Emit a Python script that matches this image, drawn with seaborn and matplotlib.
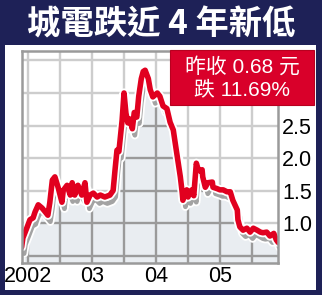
import numpy as np
import pandas as pd
import seaborn as sns
import matplotlib
matplotlib.use("Agg")
import matplotlib.pyplot as plt
import matplotlib.transforms as mtransforms
import matplotlib.patheffects as pe
from matplotlib.patches import Rectangle

# ---- data ----
years = [2001.90, 2001.92, 2001.98, 2002.03, 2002.08, 2002.11, 2002.16, 2002.22, 2002.27, 2002.31,
         2002.34, 2002.38, 2002.42, 2002.47, 2002.53, 2002.55, 2002.61, 2002.66, 2002.69, 2002.73,
         2002.78, 2002.84, 2002.89, 2002.92, 2002.97, 2003.02, 2003.08, 2003.13, 2003.20, 2003.28,
         2003.33, 2003.36, 2003.39, 2003.42, 2003.47, 2003.50, 2003.53, 2003.56, 2003.59, 2003.63,
         2003.66, 2003.70, 2003.73, 2003.77, 2003.80, 2003.83, 2003.88, 2003.91, 2003.95, 2004.02,
         2004.06, 2004.11, 2004.17, 2004.22, 2004.27, 2004.30, 2004.34, 2004.38, 2004.41, 2004.42,
         2004.45, 2004.48, 2004.50, 2004.53, 2004.56, 2004.59, 2004.63, 2004.66, 2004.69, 2004.72,
         2004.73, 2004.77, 2004.81, 2004.88, 2004.89, 2004.95, 2005.00, 2005.05, 2005.11, 2005.16,
         2005.20, 2005.27, 2005.28, 2005.31, 2005.36, 2005.42, 2005.47, 2005.52, 2005.58, 2005.63,
         2005.67, 2005.73, 2005.78, 2005.84, 2005.88, 2005.91]
price = [0.63, 0.77, 0.92, 1.05, 1.08, 1.17, 1.28, 1.23, 1.17, 1.12,
         1.31, 1.66, 1.71, 1.55, 1.32, 1.50, 1.58, 1.43, 1.62, 1.43,
         1.58, 1.43, 1.62, 1.32, 1.43, 1.46, 1.40, 1.43, 1.40, 1.43,
         1.50, 1.82, 2.12, 2.10, 2.58, 3.00, 2.69, 2.54, 2.60, 2.45,
         2.70, 2.63, 2.95, 3.22, 3.33, 3.35, 3.22, 3.05, 2.94, 3.00,
         2.95, 2.80, 2.76, 2.55, 2.43, 2.23, 1.97, 1.71, 1.46, 1.35,
         1.45, 1.51, 1.40, 1.48, 1.51, 1.42, 1.92, 1.82, 1.80, 1.82,
         1.71, 1.55, 1.62, 1.63, 1.55, 1.53, 1.51, 1.51, 1.48, 1.48,
         1.35, 1.20, 1.05, 0.94, 0.89, 0.92, 0.86, 0.92, 0.89, 0.86,
         0.85, 0.86, 0.80, 0.84, 0.74, 0.70]

year_ticks = [2002, 2003, 2004, 2005]
year_labels = ["2002", "03", "04", "05"]
price_ticks = [1.0, 1.5, 2.0, 2.5]
price_labels = ["1.0", "1.5", "2.0", "2.5"]
grid_x = [2002.0, 2002.5, 2003.0, 2003.5, 2004.0, 2004.5, 2005.0, 2005.5]
grid_y = [0.5, 1.0, 1.5, 2.0, 2.5, 3.0, 3.5]

title = "城電跌近 4 年新低"
box_line1 = "昨收 0.68 元"
box_line2 = "跌 11.69%"

df = pd.DataFrame({"year": years, "price": price})

# ---- style ----
sns.set_theme(style="white")
plt.rcParams["font.family"] = ["Liberation Sans", "Noto Sans CJK TC", "DejaVu Sans"]

NAVY = "#1e2157"
RED = "#e1001f"
FILL = "#e9edf1"
W, H = 322, 295

fig = plt.figure(figsize=(W / 100, H / 100), dpi=100)
fig.patch.set_facecolor(NAVY)
fig.add_artist(Rectangle((5 / W, 1 - 290 / H), (316 - 5) / W, (290 - 45) / H,
                         transform=fig.transFigure, facecolor="white", edgecolor="none", zorder=0))

ax = fig.add_axes([22 / W, 1 - 263 / H, 256 / W, 212 / H])
ax.set_facecolor("white")
ax.set_xlim(2001.906, 2005.906)
ax.set_ylim(0.385, 3.646)

# light grid
for gx in grid_x:
    ax.axvline(gx, color="#cdcdcd", lw=1.7, zorder=0.5)
for gy in grid_y:
    ax.axhline(gy, color="#cdcdcd", lw=1.7, zorder=0.5)

shadow_tr = mtransforms.offset_copy(ax.transData, fig=fig, x=2.5, y=-6.5, units="dots")

fill = ax.fill_between(df["year"], df["price"], 0.0, color=FILL, lw=0,
                       transform=shadow_tr, zorder=1)
clip_path = fill.get_paths()[0]

# darker grid inside the filled area
for gx in grid_x:
    ln = ax.axvline(gx, color="#9a9a9a", lw=1.7, zorder=1.5)
    ln.set_clip_path(clip_path, shadow_tr)
for gy in grid_y:
    ln = ax.axhline(gy, color="#9a9a9a", lw=1.7, zorder=1.5)
    ln.set_clip_path(clip_path, shadow_tr)

# shadow line
sns.lineplot(data=df, x="year", y="price", ax=ax, color="#a3a3a3", lw=3.4,
             sort=False, estimator=None, zorder=2)
shadow_line = ax.lines[-1]
shadow_line.set_transform(shadow_tr)
shadow_line.set_path_effects([pe.Stroke(linewidth=6.0, foreground="white"), pe.Normal()])

# red line
sns.lineplot(data=df, x="year", y="price", ax=ax, color=RED, lw=4.0,
             sort=False, estimator=None, zorder=3)
red_line = ax.lines[-1]
red_line.set_path_effects([pe.Stroke(linewidth=6.6, foreground="white"), pe.Normal()])

# axes styling
for s in ax.spines.values():
    s.set_color("#9a9a9a")
    s.set_linewidth(1.8)
    s.set_zorder(4)
ax.set_xlabel("")
ax.set_ylabel("")
ax.set_xticks(year_ticks)
ax.set_xticklabels(year_labels)
ax.set_yticks(price_ticks)
ax.set_yticklabels(price_labels)
ax.yaxis.tick_right()
ax.tick_params(axis="both", length=0, labelsize=15.5, colors="black")
ax.tick_params(axis="y", pad=3)
ax.tick_params(axis="x", pad=2)

# title
fig.text(161 / W, 1 - 25 / H, title, color="white", fontsize=24, fontweight="bold",
         ha="center", va="center", family=["Noto Sans CJK TC", "DejaVu Sans"])

# red box
fig.add_artist(Rectangle((170 / W, 1 - 105 / H), 144 / W, 55 / H, transform=fig.transFigure,
                         facecolor="#d9002a", edgecolor="#b8001f", lw=0.8, zorder=10))
fig.text(242 / W, 1 - 67 / H, box_line1, color="white", fontsize=15, ha="center", va="center",
         zorder=11)
fig.text(242 / W, 1 - 90 / H, box_line2, color="white", fontsize=15, ha="center", va="center",
         zorder=11)

fig.savefig("out.png", dpi=100, facecolor=NAVY)
